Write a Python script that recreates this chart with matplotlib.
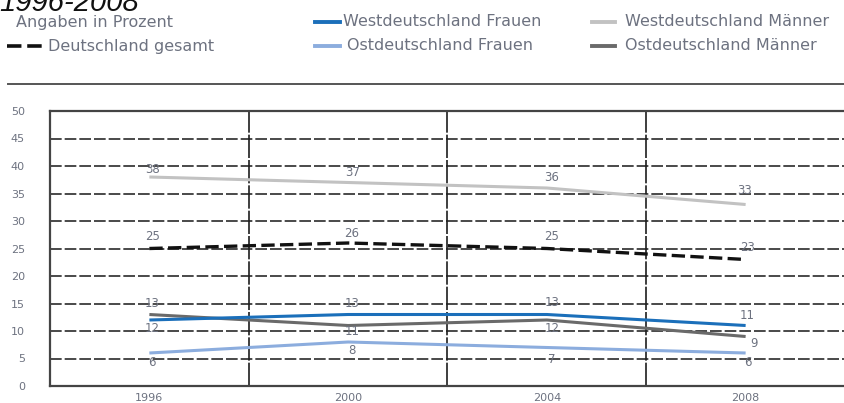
import matplotlib.pyplot as plt
from matplotlib.lines import Line2D

years = ["1996", "2000", "2004", "2008"]
west_maenner = [38, 37, 36, 33]
gesamt = [25, 26, 25, 23]
west_frauen = [12, 13, 13, 11]
ost_maenner = [13, 11, 12, 9]
ost_frauen = [6, 8, 7, 6]

W, H = 845, 403
fig = plt.figure(figsize=(W / 100, H / 100), dpi=100)
ax = fig.add_axes([50 / W, 1 - 386 / H, 795 / W, 275 / H])

txt = "#6d7280"
x = range(len(years))

ax.plot(x, west_maenner, color="#c2c2c2", lw=2.2, solid_capstyle="butt")
ax.plot(x, gesamt, color="#111111", lw=2.4, dashes=(4, 1.6))
ax.plot(x, ost_maenner, color="#6a6a6a", lw=2.2, solid_capstyle="butt")
ax.plot(x, west_frauen, color="#1b6fba", lw=2.2, solid_capstyle="butt")
ax.plot(x, ost_frauen, color="#8cadde", lw=2.2, solid_capstyle="butt")

# data labels, offsets in px per point
def labels(vals, offs):
    for i, (v, (dx, dy)) in enumerate(zip(vals, offs)):
        ax.annotate(str(v), (i, v), xytext=(dx * 0.72, dy * 0.72),
                    textcoords="offset points", ha="center", va="center",
                    fontsize=8.5, color=txt)

labels(west_maenner, [(3, 8), (4, 10), (5, 11), (-1, 14)])
labels(gesamt, [(3, 12), (4, 10), (5, 12), (2, 12)])
labels(ost_maenner, [(3, 11), (4, -6), (5, -9), (8, -7)])
labels(west_frauen, [(3, -8), (4, 11), (5, 12), (2, 10)])
labels(ost_frauen, [(3, -10), (4, -8), (5, -12), (2, -10)])

ax.set_xlim(-0.5, 3.5)
ax.set_ylim(0, 50)
ax.set_yticks(range(0, 55, 5))
ax.set_xticks(list(x))
ax.set_xticklabels(years)
ax.tick_params(length=0, labelsize=8, labelcolor=txt)
ax.tick_params(axis="y", pad=18)
ax.tick_params(axis="x", pad=5)
for y in range(5, 50, 5):
    ax.axhline(y, color="#2a2a2a", lw=1.2, dashes=(7, 1.8), zorder=0)
for xv in [0.5, 1.5, 2.5]:
    ax.axvline(xv, color="#1e1e1e", lw=1.2, dashes=(14, 1.2), zorder=0)
for s in ["left", "top", "bottom"]:
    ax.spines[s].set_color("#444444")
    ax.spines[s].set_linewidth(1.6)
ax.spines["right"].set_visible(False)

# title (cut at top edge as in the source) and legend block
fig.text(-1 / W, 1 - 11 / H, "1996-2008", fontsize=21, style="italic",
         family="Liberation Sans", color="#111111", va="baseline", ha="left")
fig.text(16 / W, 1 - 22 / H, "Angaben in Prozent", fontsize=11.5, color=txt, va="center")

def legend_item(x0, x1, xt, yp, label, **kw):
    fy = 1 - yp / H
    fig.add_artist(Line2D([x0 / W, x1 / W], [fy, fy], transform=fig.transFigure, **kw))
    fig.text(xt / W, fy, label, fontsize=11.5, color=txt, va="center")

legend_item(7, 42, 48, 46, "Deutschland gesamt", color="#111111", lw=2.6, dashes=(4, 1.6))
legend_item(315, 340, 343, 22, "Westdeutschland Frauen", color="#1b6fba", lw=2.8)
legend_item(315, 340, 347, 46, "Ostdeutschland Frauen", color="#8cadde", lw=2.8)
legend_item(592, 615, 625, 22, "Westdeutschland Männer", color="#c2c2c2", lw=2.8)
legend_item(592, 615, 625, 46, "Ostdeutschland Männer", color="#6a6a6a", lw=2.8)

fig.add_artist(Line2D([8 / W, 1.0], [1 - 84 / H] * 2, transform=fig.transFigure,
                      color="#555555", lw=1.4))

fig.savefig("out.png", dpi=100)
